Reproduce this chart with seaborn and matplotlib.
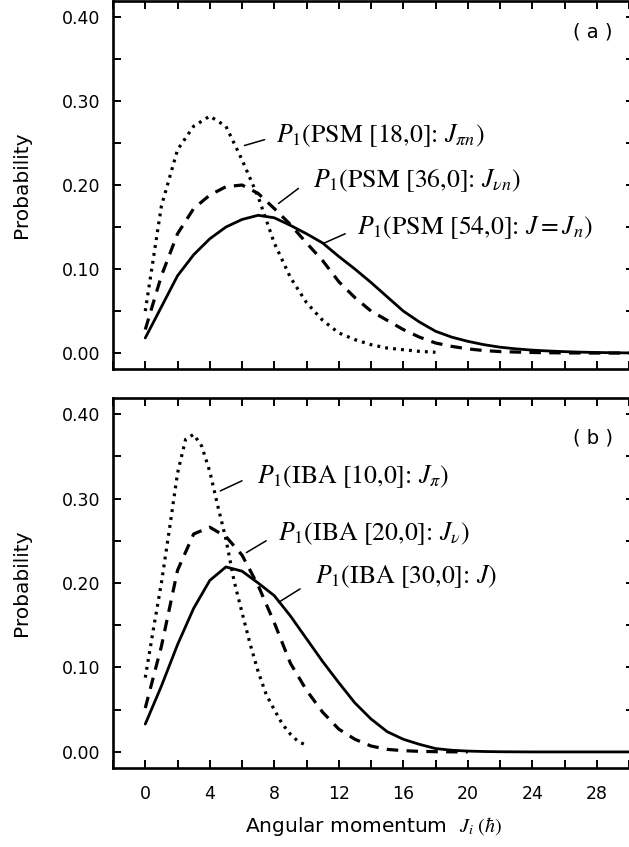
import numpy as np
import pandas as pd
import matplotlib
matplotlib.use("Agg")
import matplotlib.pyplot as plt
from matplotlib.ticker import MultipleLocator, FixedLocator
import seaborn as sns

# ---------------- data ----------------
# Panel (a): PSM
a_dot_J = list(range(0, 19))
a_dot_P = [0.050, 0.175, 0.242, 0.270, 0.282, 0.270, 0.230, 0.186, 0.131, 0.090,
           0.060, 0.039, 0.024, 0.016, 0.010, 0.006, 0.004, 0.002, 0.001]
a_dash_J = list(range(0, 31))
a_dash_P = [0.028, 0.092, 0.142, 0.172, 0.188, 0.198, 0.200, 0.190, 0.172, 0.153,
            0.131, 0.110, 0.085, 0.066, 0.050, 0.039, 0.028, 0.019, 0.012, 0.008,
            0.005, 0.003, 0.0018, 0.0012, 0.0007, 0.0004, 0.0002, 0.0001, 0.0, 0.0, 0.0]
a_sol_J = list(range(0, 31))
a_sol_P = [0.018, 0.055, 0.092, 0.117, 0.136, 0.150, 0.159, 0.164, 0.161, 0.152,
           0.142, 0.131, 0.115, 0.100, 0.084, 0.067, 0.050, 0.037, 0.026, 0.019,
           0.014, 0.010, 0.007, 0.005, 0.0035, 0.0025, 0.0017, 0.0011, 0.0007, 0.0004, 0.0002]

# Panel (b): IBA
b_dot_J = [0, 0.5, 1, 1.5, 2, 2.5, 3, 3.5, 4, 4.5, 5, 5.5, 6, 6.5, 7, 7.5, 8, 8.5, 9, 9.5, 10]
b_dot_P = [0.088, 0.145, 0.200, 0.264, 0.330, 0.370, 0.376, 0.362, 0.332, 0.291,
           0.252, 0.203, 0.165, 0.128, 0.095, 0.068, 0.050, 0.033, 0.021, 0.012, 0.008]
b_dash_J = list(range(0, 21))
b_dash_P = [0.052, 0.125, 0.215, 0.258, 0.266, 0.255, 0.233, 0.197, 0.153, 0.105,
            0.073, 0.047, 0.027, 0.015, 0.007, 0.003, 0.0015, 0.0007, 0.0003, 0.0001, 0.0]
b_sol_J = list(range(0, 31))
b_sol_P = [0.033, 0.078, 0.127, 0.170, 0.203, 0.219, 0.214, 0.200, 0.185, 0.161,
           0.134, 0.107, 0.082, 0.058, 0.039, 0.024, 0.015, 0.009, 0.004, 0.002,
           0.001, 0.0005, 0.0002, 0.0001, 0.0, 0.0, 0.0, 0.0, 0.0, 0.0, 0.0]

a_labels = [r"$P_1$(PSM [18,0]: $J_{\pi n}$)",
            r"$P_1$(PSM [36,0]: $J_{\nu n}$)",
            r"$P_1$(PSM [54,0]: $J = J_n$)"]
b_labels = [r"$P_1$(IBA [10,0]: $J_{\pi}$)",
            r"$P_1$(IBA [20,0]: $J_{\nu}$)",
            r"$P_1$(IBA [30,0]: $J$)"]
# label anchor (x, y) and leader line endpoints ((x0, y0), (x1, y1))
a_text_pos = [(8.1, 0.259), (10.4, 0.205), (13.1, 0.149)]
a_leaders = [((6.15, 0.247), (7.4, 0.254)), ((8.26, 0.178), (9.5, 0.196)),
             ((11.1, 0.131), (12.4, 0.142))]
b_text_pos = [(6.9, 0.326), (8.26, 0.259), (10.5, 0.207)]
b_leaders = [((4.65, 0.309), (6.0, 0.321)), ((6.27, 0.236), (7.5, 0.25)),
             ((8.26, 0.177), (9.6, 0.193))]

x_ticks = [0, 4, 8, 12, 16, 20, 24, 28]
y_ticks = [0.00, 0.10, 0.20, 0.30, 0.40]

# ---------------- style ----------------
sns.set_theme(style="ticks")
plt.rcParams["font.family"] = ["DejaVu Sans"]
plt.rcParams["mathtext.fontset"] = "stix"
plt.rcParams["text.color"] = "black"
plt.rcParams["axes.labelcolor"] = "black"
plt.rcParams["xtick.color"] = "black"
plt.rcParams["ytick.color"] = "black"

fig = plt.figure(figsize=(6.29, 8.47), dpi=100)
ax1 = fig.add_axes([0.1797, 0.5643, 0.828, 0.4345])
ax2 = fig.add_axes([0.1797, 0.0933, 0.828, 0.4368])

dot_ls = (0, (0.9, 1.6))
dash_ls = (0, (3.6, 2.6))


def draw_panel(ax, series, labels, tpos, leaders, tag, tag_y, show_xlabels):
    for J, P, ls, lw in series:
        df = pd.DataFrame({"J": J, "P": P})
        sns.lineplot(data=df, x="J", y="P", ax=ax, color="black",
                     linestyle=ls, linewidth=lw, estimator=None, sort=False)
    for lab, (tx, ty), ((x0, y0), (x1, y1)) in zip(labels, tpos, leaders):
        ax.plot([x0, x1], [y0, y1], color="black", linewidth=1.1)
        ax.text(tx, ty, lab, fontsize=18.5, family="STIXGeneral",
                ha="left", va="center", color="black")
    ax.text(27.75, tag_y, tag, fontsize=14, ha="center", va="center", color="black")
    ax.set_xlim(-2.0, 30.3)
    ax.set_ylim(-0.019, 0.419)
    ax.xaxis.set_major_locator(FixedLocator(x_ticks))
    ax.xaxis.set_minor_locator(MultipleLocator(2))
    ax.yaxis.set_major_locator(FixedLocator(y_ticks))
    ax.yaxis.set_minor_locator(MultipleLocator(0.05))
    ax.set_yticklabels([f"{v:.2f}" for v in y_ticks])
    ax.tick_params(which="both", direction="in", top=True, right=True,
                   length=6, width=1.4, color="black", labelcolor="black")
    ax.tick_params(axis="y", which="major", labelsize=12.5, pad=9)
    ax.tick_params(axis="x", which="major", labelsize=12.5, pad=12)
    if show_xlabels:
        ax.set_xticklabels([str(v) for v in x_ticks])
        ax.set_xlabel(r"Angular momentum  $J_i\ (\hbar)$", fontsize=14.5,
                      labelpad=9, color="black")
    else:
        ax.set_xticklabels([])
        ax.set_xlabel("")
    ax.set_ylabel("Probability", fontsize=14.5, labelpad=22, color="black")
    for s in ax.spines.values():
        s.set_linewidth(1.9)
        s.set_color("black")
    ax.set_facecolor("white")


draw_panel(ax1,
           [(a_dot_J, a_dot_P, dot_ls, 2.3),
            (a_dash_J, a_dash_P, dash_ls, 2.3),
            (a_sol_J, a_sol_P, "-", 2.0)],
           a_labels, a_text_pos, a_leaders, "( a )", 0.382, False)
draw_panel(ax2,
           [(b_dot_J, b_dot_P, dot_ls, 2.3),
            (b_dash_J, b_dash_P, dash_ls, 2.3),
            (b_sol_J, b_sol_P, "-", 2.0)],
           b_labels, b_text_pos, b_leaders, "( b )", 0.372, True)

fig.savefig("out.png", dpi=100, facecolor="white")
